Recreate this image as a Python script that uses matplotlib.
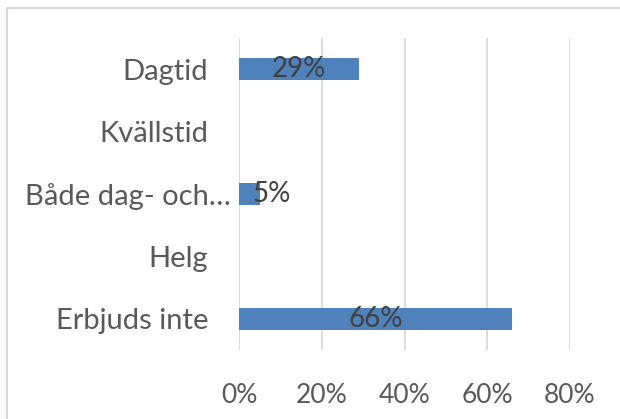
import matplotlib
matplotlib.use("Agg")
import matplotlib.pyplot as plt
from matplotlib.patches import Rectangle
from matplotlib.transforms import ScaledTranslation

categories = ["Dagtid", "Kvällstid", "Både dag- och…", "Helg", "Erbjuds inte"]
values = [29, 0, 5, 0, 66]
labels = ["29%", "", "5%", "", "66%"]
xticks = [0, 20, 40, 60, 80]
xticklabels = ["0%", "20%", "40%", "60%", "80%"]

plt.rcParams['font.family'] = ['Lato', 'DejaVu Sans']

W, H = 620, 419
fig = plt.figure(figsize=(W / 100, H / 100), dpi=100)
fig.patch.set_facecolor("white")

# chart border (left/top visible, right/bottom beyond the image)
fig.patches.append(Rectangle((7 / W, -0.1), 1.2, 1 - 8 / H + 0.1, transform=fig.transFigure,
                             fill=False, edgecolor="#d9d9d9", linewidth=1.5))

ax = fig.add_axes([239 / W, 1 - 350 / H, (570 - 239) / W, (350 - 38) / H])
ypos = list(range(len(categories)))[::-1]
ax.barh(ypos, values, height=0.35, color="#4f81bd", zorder=3)
for y, v, lab in zip(ypos, values, labels):
    if lab:
        ax.text(v / 2 if v > 10 else v + 3.0, y, lab, ha="center", va="center",
                fontsize=20, color="#404040", zorder=4)

ax.set_xlim(0, 80)
ax.set_ylim(-0.5, 4.5)
ax.set_xticks(xticks)
ax.set_xticklabels(xticklabels)
ax.set_yticks(ypos)
ax.set_yticklabels(categories)
ax.tick_params(axis="x", length=0, labelsize=19, labelcolor="#595959", pad=24)
ax.tick_params(axis="y", length=0, labelsize=21, labelcolor="#595959", pad=22)
for lab in ax.get_yticklabels():
    if lab.get_text().endswith("…"):
        lab.set_transform(lab.get_transform() + ScaledTranslation(0.22, 0, fig.dpi_scale_trans))
for s in ax.spines.values():
    s.set_visible(False)
ax.grid(axis="x", color="#d9d9d9", linewidth=1.3, zorder=0)
ax.set_axisbelow(True)

fig.savefig("out.png", dpi=100)
